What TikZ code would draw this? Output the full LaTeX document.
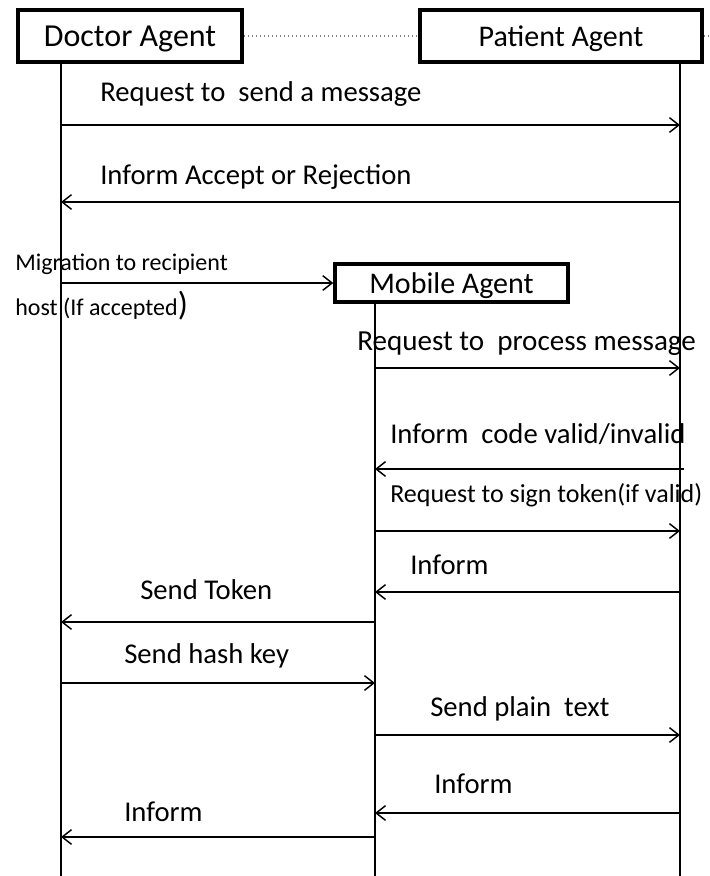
\documentclass[tikz,border=0pt]{standalone}
\usepackage{fontspec}
\setmainfont{Carlito}
\usetikzlibrary{arrows.meta}
\tikzset{
  agent/.style={draw, line width=2.6pt, inner sep=0pt, text depth=0pt, font=\fontsize{22.5}{26}\selectfont},
  life/.style={line width=1.4pt},
  msg/.style={line width=1.4pt, -{Straight Barb[length=7pt, width=11pt, line width=1.1pt]}},
  lbl/.style={anchor=base west, inner sep=0pt, font=\fontsize{21.5}{24}\selectfont},
  small/.style={anchor=base west, inner sep=0pt, font=\fontsize{18}{20}\selectfont},
  mid/.style={anchor=base west, inner sep=0pt, font=\fontsize{19.5}{22}\selectfont},
  link/.style={gray, dotted, line width=1pt}
}
\begin{document}
\begin{tikzpicture}[x=0.75pt, y=-0.75pt]
\useasboundingbox (0,0) rectangle (710,876);

% participants
\node[agent, font=\fontsize{24}{26}\selectfont, minimum width=224*0.75pt, minimum height=52*0.75pt] (doc) at (130,36) {Doctor Agent};
\node[agent, minimum width=282*0.75pt, minimum height=52*0.75pt] (pat) at (561,36) {Patient Agent};
\node[agent, minimum width=233*0.75pt, minimum height=38*0.75pt] (mob) at (451.5,283) {Mobile Agent};

% dotted link between the two top boxes
\coordinate (tail) at (710,36);
\draw[link] (doc.east) -- (pat.west);
\draw[link] (pat.east) -- (tail);

% lifeline columns
\coordinate (D) at (61,876);
\coordinate (P) at (680,876);
\coordinate (M) at (375,876);
\draw[life] (doc.south -| D) -- (D);
\draw[life] (pat.south -| P) -- (P);
\draw[life] (mob.south -| M) -- (M);

% Doctor <-> Patient
\node[lbl] (l1) at (100,101) {Request to\ \ send a message};
\draw[msg] (D |- 0,125) -- (P |- 0,125);
\node[lbl] (l2) at (100,184) {Inform Accept or Rejection};
\draw[msg] (P |- 0,202) -- (D |- 0,202);

% migration
\node[small] (l3) at (15,270) {Migration to recipient};
\node[small] (l3b) at (15,315) {host (If accepted{\fontsize{25}{26}\selectfont)}};
\draw[msg] (D |- 0,283) -- (mob.west);

% Mobile <-> Patient
\node[lbl, font=\fontsize{21.8}{24}\selectfont] (l4) at (357,350) {Request to\ \ process message};
\draw[msg] (M |- 0,368) -- (P |- 0,368);
\node[lbl] (l5) at (390,443) {Inform\ \ code valid/invalid};
\coordinate (p5) at (684,469);
\draw[msg] (p5) -- (M |- p5);
\node[mid] (l6) at (390,502) {Request to sign token(if valid)};
\draw[msg] (M |- 0,531) -- (P |- 0,531);
\node[lbl] (l7) at (410,574) {Inform};
\draw[msg] (P |- 0,592) -- (M |- 0,592);

% Mobile <-> Doctor
\node[lbl] (l8) at (140,599) {Send Token};
\draw[msg] (M |- 0,622) -- (D |- 0,622);
\node[lbl] (l9) at (124,663) {Send hash key};
\draw[msg] (D |- 0,683) -- (M |- 0,683);

% final exchange
\node[lbl] (l10) at (430,716) {Send plain\ \ text};
\draw[msg] (M |- 0,735) -- (P |- 0,735);
\node[lbl] (l11) at (434,793) {Inform};
\draw[msg] (P |- 0,813) -- (M |- 0,813);
\node[lbl] (l12) at (124,821) {Inform};
\draw[msg] (M |- 0,837) -- (D |- 0,837);
\end{tikzpicture}
\end{document}
